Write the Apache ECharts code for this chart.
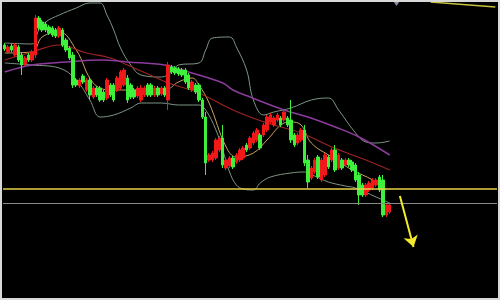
<!DOCTYPE html>
<html>
<head>
<meta charset="utf-8">
<style>
html,body{margin:0;padding:0;background:#fff;}
#chart{width:500px;height:300px;}
</style>
<script src="https://cdn.jsdelivr.net/npm/echarts@6/dist/echarts.min.js"></script>
</head>
<body>
<div id="chart"></div>
<script>
// ---- data (price units) ----
var slotCount = 145;
var categories = Array.from({length: slotCount}, function (_, i) { return 'T' + i; });

var opens  = [255,248,254,245,253,245,236,245,240,245,282,278,276,273,272,270,264,270,260,252,245,220,214,224,210,220,203,212,212,208,202,215,215,210,212,215,222,215,210,204,200,205,215,215,205,212,206,212,200,233,232,231,230,230,225,210,215,215,200,183,140,140,142,150,162,132,134,142,138,140,142,155,152,157,160,165,165,170,178,175,180,182,180,182,180,165,157,160,170,140,122,128,143,120,125,143,140,150,132,140,135,140,138,135,125,115,105,110,112,115,123,120,85,88];
var closes = [251,253,250,255,240,235,242,240,248,282,272,270,270,267,265,264,272,255,250,242,215,215,220,218,220,205,212,205,200,200,220,205,200,222,228,230,200,203,203,212,212,212,205,205,212,205,212,205,235,228,227,226,225,218,212,218,208,200,183,137,145,147,160,162,135,140,142,133,145,150,152,150,162,167,170,152,175,183,185,182,185,175,188,175,160,155,165,170,137,118,132,140,123,140,145,133,150,130,145,132,140,135,130,120,105,105,115,117,120,120,110,85,95,95];
var lows   = [249,246,248,243,238,225,234,238,238,242,270,268,268,265,263,262,262,253,248,240,212,213,212,216,208,200,201,203,198,198,200,203,198,208,210,213,197,201,201,202,198,203,203,203,203,203,204,203,190,226,225,224,223,216,210,208,206,198,181,125,138,138,140,148,132,130,132,131,136,138,140,148,150,155,158,150,163,168,176,173,178,173,178,173,157,153,155,158,134,112,120,126,121,118,123,131,138,128,130,130,133,133,128,118,95,103,103,108,110,113,108,83,83,86];
var highs  = [257,255,256,257,255,248,244,247,250,285,284,280,278,275,274,272,274,272,262,254,248,222,222,226,222,223,214,214,214,210,222,217,217,224,230,232,225,217,212,214,215,214,217,217,214,214,214,214,238,235,234,233,232,232,227,220,217,217,202,188,147,149,162,164,175,142,144,144,147,152,154,157,164,169,172,167,177,185,187,184,187,184,190,184,200,167,167,172,175,145,134,142,145,142,147,145,152,155,147,142,142,142,140,137,128,117,117,119,122,122,125,125,97,97];

// indicator lines: [slot index, value]
var bollUpper = [[0,257],[8,256],[10,270],[12,278],[16,285],[21,292],[25,297],[28,297],[30,285],[32,270],[34,252],[37,235],[40,225],[46,223],[49,228],[51,235],[57,237],[59,250],[61,262],[66,263],[68,253],[71,230],[73,200],[76,185],[79,188],[84,192],[90,200],[95,202],[98,190],[103,167],[106,158],[109,157],[113,159]];
var bollLower = [[0,237],[8,235],[16,232],[21,220],[25,200],[28,183],[32,185],[37,192],[40,197],[46,197],[51,195],[57,195],[59,190],[62,170],[64,150],[66,128],[68,115],[70,111],[73,110],[75,117],[78,123],[84,127],[88,128],[91,124],[95,118],[100,114],[103,112],[109,103],[113,97]];
var maShort = [[0,247],[8,248],[11,263],[16,268],[21,250],[26,217],[31,210],[36,210],[47,210],[51,218],[55,222],[57,215],[60,197],[65,153],[68,143],[73,147],[77,160],[82,177],[84,178],[87,175],[90,157],[96,143],[102,130],[108,120],[112,110]];
var maMid = [[0,240],[8,248],[16,255],[24,247],[31,242],[36,235],[44,223],[48,217],[57,207],[67,190],[77,177],[87,167],[96,153],[106,140],[113,130]];
var maLong = [[0,228],[8,235],[18,238],[28,240],[36,238],[47,235],[54,228],[64,217],[67,210],[72,203],[82,190],[89,183],[97,173],[104,163],[113,145]];

var supportLevel = 111;
var lowerLevel = 97;
var arrowPath = [[116,104],[120,53]];
var trendTop = [[125,298],[144,293]];
var markerPoint = [[115,297]];

// ---- build ----
var candleData = opens.map(function (o, i) { return [o, closes[i], lows[i], highs[i]]; });

var chart = echarts.init(document.getElementById('chart'), null, {renderer: 'canvas'});
function lineSeries(data, color, width) {
  return {
    type: 'line', data: data, smooth: 0.4, symbol: 'none', silent: true,
    lineStyle: {color: color, width: width}, z: 1
  };
}
chart.setOption({
  backgroundColor: '#000',
  animation: false,
  grid: {left: 3, right: 3, top: 0, bottom: 0},
  xAxis: {
    type: 'category', data: categories, boundaryGap: true,
    axisLine: {show: false}, axisTick: {show: false}, axisLabel: {show: false}, splitLine: {show: false}
  },
  yAxis: {
    type: 'value', min: 0, max: 300, scale: false,
    axisLine: {show: false}, axisTick: {show: false}, axisLabel: {show: false}, splitLine: {show: false}
  },
  graphic: [{
    type: 'rect', silent: true, z: 100,
    shape: {x: 1, y: 1, width: 498, height: 298},
    style: {fill: 'none', stroke: '#d8d8d8', lineWidth: 2}
  }],
  series: [
    lineSeries(bollUpper, '#7d9683', 1),
    lineSeries(bollLower, '#7d9683', 1),
    lineSeries(maShort, '#c9a55c', 1),
    lineSeries(maMid, '#9c2424', 1.2),
    lineSeries(maLong, '#8c3c9c', 1.5),
    {
      type: 'candlestick', data: candleData, barWidth: 3, z: 3,
      itemStyle: {color: '#f01818', color0: '#3cf03c', borderColor: '#f01818', borderColor0: '#3cf03c', borderWidth: 1},
      markLine: {
        silent: true, symbol: 'none', label: {show: false}, animation: false,
        data: [
          {yAxis: supportLevel, lineStyle: {color: '#e6d24a', width: 1.5, type: 'solid'}},
          {yAxis: lowerLevel, lineStyle: {color: '#8a8a8a', width: 1, type: 'solid'}}
        ]
      }
    },
    {
      type: 'lines', coordinateSystem: 'cartesian2d', silent: true, z: 5,
      symbol: ['none', 'arrow'], symbolSize: 11,
      lineStyle: {color: '#f2ea2a', width: 2, opacity: 1},
      data: [{coords: arrowPath}]
    },
    {
      type: 'lines', coordinateSystem: 'cartesian2d', silent: true, z: 5,
      symbol: 'none',
      lineStyle: {color: '#c8c040', width: 1.5, opacity: 1},
      data: [{coords: trendTop}]
    },
    {
      type: 'scatter', data: markerPoint, symbol: 'triangle', symbolRotate: 180,
      symbolSize: [8, 6], itemStyle: {color: '#b4aed0'}, silent: true, z: 5
    }
  ]
});
</script>
</body>
</html>
